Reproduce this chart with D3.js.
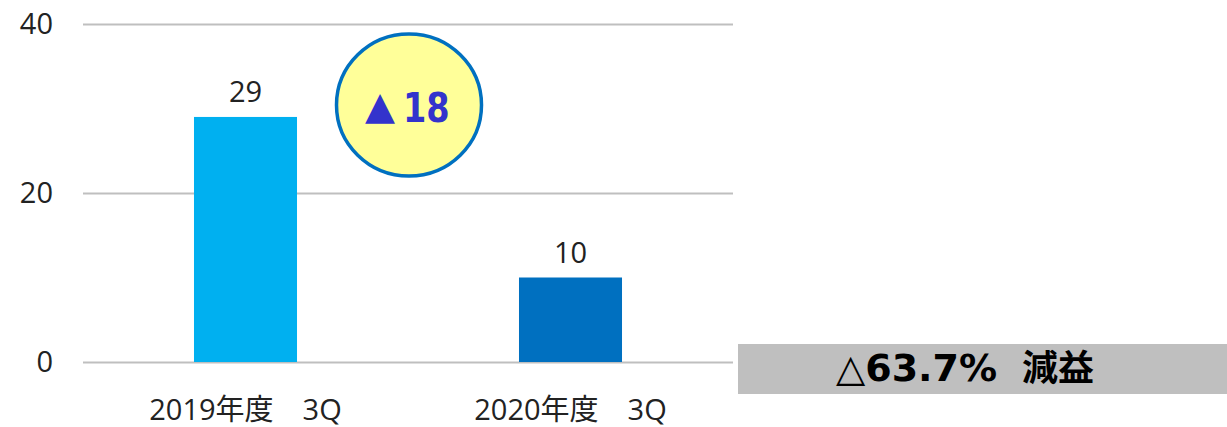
<!DOCTYPE html>
<html><head><meta charset="utf-8">
<script src="https://cdn.jsdelivr.net/npm/d3@7"></script>
<style>
body{margin:0;background:#fff;}
svg{display:block;}
</style></head>
<body>
<svg id="c" width="1227" height="427"></svg>
<script>
const categories = ["2019年度\u30003Q", "2020年度\u30003Q"];
const values = [29, 10];
const barColors = ["#00B0F0", "#0070C0"];
const yTicks = [0, 20, 40];
const changeMark = "▲";
const changeValue = "18";
const notePct = "△63.7%";
const noteWord = "減益";

(function(){
const svg = d3.select("#c");
const mL = 83, mR = 733, mT = 24, mB = 362;
const x = d3.scaleBand().domain(categories).range([mL, mR]).paddingInner(0.683).paddingOuter(0.3415);
const y = d3.scaleLinear().domain([0, 40]).range([mB, mT]);

const labelFont = "'Open Sans','Noto Sans CJK JP',sans-serif";

// gridlines + y axis
const yAxis = svg.append("g").attr("transform", `translate(${mL},0)`)
  .call(d3.axisLeft(y).tickValues(yTicks).tickSize(-(mR-mL)).tickPadding(30).tickFormat(d3.format("d")));
yAxis.select(".domain").remove();
yAxis.selectAll(".tick line").attr("stroke", "#BFBFBF").attr("stroke-width", 2);
yAxis.selectAll(".tick text").attr("font-family", labelFont).attr("font-size", 29).attr("fill", "#222");

// bars
svg.selectAll("rect.bar").data(values).join("rect").attr("class","bar")
  .attr("x", (d,i)=>x(categories[i])).attr("width", x.bandwidth())
  .attr("y", d=>y(d)).attr("height", d=>y(0)-y(d))
  .attr("fill", (d,i)=>barColors[i]);

// value labels
svg.selectAll("text.val").data(values).join("text").attr("class","val")
  .attr("x", (d,i)=>x(categories[i])+x.bandwidth()/2).attr("y", d=>y(d)-15)
  .attr("text-anchor","middle").attr("font-family", labelFont).attr("font-size", 29).attr("fill","#222")
  .text(d=>d);

// category labels
const xAxis = svg.append("g").attr("transform", `translate(0,${mB})`)
  .call(d3.axisBottom(x).tickSize(0).tickPadding(37));
xAxis.select(".domain").remove();
xAxis.selectAll(".tick text").attr("font-family", labelFont).attr("font-size", 29).attr("fill","#222");

// circle annotation
svg.append("ellipse").attr("cx", 409).attr("cy", 105).attr("rx", 72.5).attr("ry", 71)
  .attr("fill", "#FFFF99").attr("stroke", "#0070C0").attr("stroke-width", 3.5);
svg.append("text").attr("x", 380).attr("y", 119).attr("text-anchor","middle")
  .attr("font-family","'DejaVu Sans',sans-serif").attr("font-size", 39)
  .attr("fill","#3333CC").text(changeMark);
svg.append("text").attr("transform","translate(403,122) scale(0.84,1)").attr("text-anchor","start")
  .attr("font-family","'DejaVu Sans',sans-serif").attr("font-weight","bold").attr("font-size", 40)
  .attr("fill","#3333CC").text(changeValue);

// grey note box
svg.append("rect").attr("x", 738).attr("y", 344).attr("width", 489).attr("height", 50).attr("fill", "#BFBFBF");
svg.append("text").attr("x", 836).attr("y", 380.5).attr("text-anchor","start")
  .attr("font-family","'DejaVu Sans',sans-serif").attr("font-weight","bold").attr("font-size", 38)
  .attr("fill","#000").text(notePct);
svg.append("text").attr("x", 1094).attr("y", 380.5).attr("text-anchor","end")
  .attr("font-family","'Noto Sans CJK JP',sans-serif").attr("font-weight","bold").attr("font-size", 36)
  .attr("fill","#000").text(noteWord);
})();
</script>
</body></html>
